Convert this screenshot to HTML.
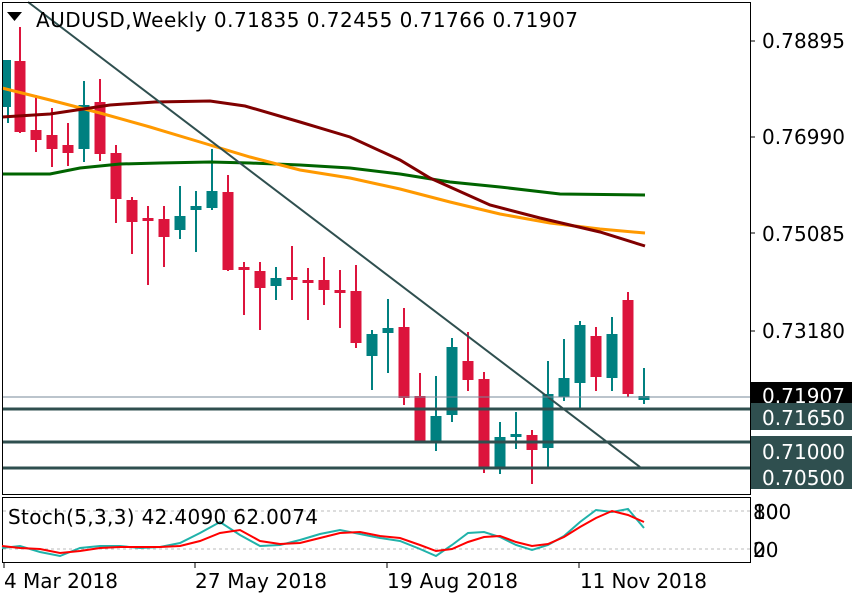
<!DOCTYPE html><html><head><style>body{margin:0;background:#fff}svg{display:block}text{font-family:"DejaVu Sans","Liberation Sans",sans-serif}</style></head><body>
<svg width="860" height="600" viewBox="0 0 860 600" xmlns="http://www.w3.org/2000/svg">
<rect width="860" height="600" fill="#fff"/>
<g stroke-width="2">
<g stroke="#008080" fill="#008080">
<line x1="8" y1="60" x2="8" y2="123"/><rect x="3" y="60" width="8" height="47" stroke="none"/>
<line x1="84" y1="81" x2="84" y2="162"/><rect x="78.5" y="105" width="11" height="44" stroke="none"/>
<line x1="180" y1="186" x2="180" y2="239"/><rect x="174.5" y="216" width="11" height="14" stroke="none"/>
<line x1="196" y1="191" x2="196" y2="252"/><rect x="190.5" y="206" width="11" height="4" stroke="none"/>
<line x1="212" y1="149" x2="212" y2="210"/><rect x="206.5" y="191" width="11" height="17" stroke="none"/>
<line x1="276" y1="267" x2="276" y2="300"/><rect x="270.5" y="278" width="11" height="8" stroke="none"/>
<line x1="372" y1="330" x2="372" y2="390"/><rect x="366.5" y="334" width="11" height="22" stroke="none"/>
<line x1="388" y1="299" x2="388" y2="373"/><rect x="382.5" y="328" width="11" height="5" stroke="none"/>
<line x1="436" y1="376" x2="436" y2="451"/><rect x="430.5" y="416" width="11" height="26" stroke="none"/>
<line x1="452" y1="338" x2="452" y2="422"/><rect x="446.5" y="347" width="11" height="68" stroke="none"/>
<line x1="500" y1="422" x2="500" y2="474"/><rect x="494.5" y="437" width="11" height="31" stroke="none"/>
<line x1="516" y1="412" x2="516" y2="449"/><rect x="510.5" y="434" width="11" height="3" stroke="none"/>
<line x1="548" y1="361" x2="548" y2="469"/><rect x="542.5" y="394" width="11" height="54" stroke="none"/>
<line x1="564" y1="339" x2="564" y2="401"/><rect x="558.5" y="378" width="11" height="19" stroke="none"/>
<line x1="580" y1="321" x2="580" y2="409"/><rect x="574.5" y="325" width="11" height="58" stroke="none"/>
<line x1="612" y1="317" x2="612" y2="391"/><rect x="606.5" y="334" width="11" height="44" stroke="none"/>
<line x1="644" y1="368" x2="644" y2="404"/><rect x="638.5" y="396" width="11" height="4" stroke="none"/>
</g>
<g stroke="#dc143c" fill="#dc143c">
<line x1="20" y1="27" x2="20" y2="133"/><rect x="14.5" y="61" width="11" height="71" stroke="none"/>
<line x1="36" y1="95" x2="36" y2="152"/><rect x="30.5" y="130" width="11" height="10" stroke="none"/>
<line x1="52" y1="108" x2="52" y2="167"/><rect x="46.5" y="135" width="11" height="14" stroke="none"/>
<line x1="68" y1="123" x2="68" y2="166"/><rect x="62.5" y="145" width="11" height="8" stroke="none"/>
<line x1="100" y1="79" x2="100" y2="161"/><rect x="94.5" y="102" width="11" height="52" stroke="none"/>
<line x1="116" y1="145" x2="116" y2="223"/><rect x="110.5" y="153" width="11" height="46" stroke="none"/>
<line x1="132" y1="197" x2="132" y2="254"/><rect x="126.5" y="200" width="11" height="22" stroke="none"/>
<line x1="148" y1="206" x2="148" y2="285"/><rect x="142.5" y="218" width="11" height="3" stroke="none"/>
<line x1="164" y1="206" x2="164" y2="267"/><rect x="158.5" y="219" width="11" height="18" stroke="none"/>
<line x1="228" y1="175" x2="228" y2="271"/><rect x="222.5" y="192" width="11" height="78" stroke="none"/>
<line x1="244" y1="262" x2="244" y2="315"/><rect x="238.5" y="267" width="11" height="3" stroke="none"/>
<line x1="260" y1="262" x2="260" y2="330"/><rect x="254.5" y="271" width="11" height="17" stroke="none"/>
<line x1="292" y1="246" x2="292" y2="300"/><rect x="286.5" y="277" width="11" height="3" stroke="none"/>
<line x1="308" y1="268" x2="308" y2="320"/><rect x="302.5" y="280" width="11" height="3" stroke="none"/>
<line x1="324" y1="257" x2="324" y2="305"/><rect x="318.5" y="280" width="11" height="10" stroke="none"/>
<line x1="340" y1="270" x2="340" y2="328"/><rect x="334.5" y="290" width="11" height="3" stroke="none"/>
<line x1="356" y1="265" x2="356" y2="348"/><rect x="350.5" y="291" width="11" height="52" stroke="none"/>
<line x1="404" y1="308" x2="404" y2="405"/><rect x="398.5" y="327" width="11" height="71" stroke="none"/>
<line x1="420" y1="373" x2="420" y2="443"/><rect x="414.5" y="396" width="11" height="45" stroke="none"/>
<line x1="468" y1="332" x2="468" y2="391"/><rect x="462.5" y="361" width="11" height="19" stroke="none"/>
<line x1="484" y1="372" x2="484" y2="473"/><rect x="478.5" y="379" width="11" height="90" stroke="none"/>
<line x1="532" y1="430" x2="532" y2="484"/><rect x="526.5" y="435" width="11" height="15" stroke="none"/>
<line x1="596" y1="327" x2="596" y2="391"/><rect x="590.5" y="336" width="11" height="41" stroke="none"/>
<line x1="628" y1="292" x2="628" y2="397"/><rect x="622.5" y="300" width="11" height="94" stroke="none"/>
</g>
</g>
<polyline fill="none" stroke="#006400" stroke-width="3" points="2,174 50,174 80,168 120,164 160,163 210,162 250,163 300,165 350,168 400,174 450,182 500,187 560,194 645,195"/>
<polyline fill="none" stroke="#ff9900" stroke-width="3" points="2,88 50,100 100,113 150,127 200,142 250,157 300,170 350,178 400,189 450,202 500,214 550,223 600,229 645,233"/>
<polyline fill="none" stroke="#800000" stroke-width="3" points="2,117 50,114 110,105 155,102 210,101 245,106 300,122 350,137 400,160 430,178 490,205 540,218 600,232 645,246"/>
<line x1="28" y1="2" x2="640" y2="467" stroke="#2f4f4f" stroke-width="2"/>
<line x1="2" y1="397" x2="750" y2="397" stroke="#778899" stroke-width="1"/>
<g stroke="#2f4f4f" stroke-width="3"><line x1="2" y1="409" x2="750" y2="409"/><line x1="2" y1="442" x2="750" y2="442"/><line x1="2" y1="468" x2="750" y2="468"/></g>
<rect x="2.5" y="2.5" width="748" height="492" fill="none" stroke="#000"/>
<rect x="2.5" y="497.5" width="748" height="65" fill="none" stroke="#000"/>
<g stroke="#000"><line x1="750" y1="41" x2="755" y2="41"/><line x1="750" y1="137" x2="755" y2="137"/><line x1="750" y1="233" x2="755" y2="233"/><line x1="750" y1="331" x2="755" y2="331"/><line x1="387" y1="563" x2="387" y2="568"/><line x1="579" y1="563" x2="579" y2="568"/><line x1="195" y1="563" x2="195" y2="568"/><line x1="4" y1="563" x2="4" y2="568"/></g>
<g font-size="20" fill="#000"><text x="762" y="48" textLength="83">0.78895</text><text x="762" y="144" textLength="83">0.76990</text><text x="762" y="241" textLength="83">0.75085</text><text x="762" y="338" textLength="83">0.73180</text></g>
<rect x="751" y="382" width="101" height="22" fill="#000"/><text x="762" y="403" font-size="20" fill="#fff" textLength="83">0.71907</text>
<rect x="751" y="403" width="101" height="27" fill="#2f4f4f"/><text x="762" y="425" font-size="20" fill="#fff" textLength="83">0.71650</text>
<rect x="751" y="436" width="101" height="53" fill="#2f4f4f"/><text x="762" y="459" font-size="20" fill="#fff" textLength="83">0.71000</text><text x="762" y="485" font-size="20" fill="#fff" textLength="83">0.70500</text>
<path d="M7,12 L22,12 L14.5,21Z" fill="#000"/>
<text x="36" y="27" font-size="20" textLength="542">AUDUSD,Weekly  0.71835 0.72455 0.71766 0.71907</text>
<g stroke="#bbb" stroke-dasharray="3,3"><line x1="3" y1="511" x2="750" y2="511"/><line x1="3" y1="549" x2="750" y2="549"/></g>
<polyline fill="none" stroke="#20b2aa" stroke-width="2" points="2,548 20,546 40,552 60,556 80,548 100,546 120,546 140,548 160,547 180,543 200,533 220,522 240,535 260,546 280,545 300,540 320,534 340,530 360,534 380,538 400,541 420,549 436,556 452,545 468,533 484,532 500,537 516,545 532,550 548,545 564,536 580,522 596,510 612,512 628,509 644,528"/>
<polyline fill="none" stroke="#ff0000" stroke-width="2" points="2,546 20,548 40,549 60,553 80,551 100,548 120,547 140,547 160,547 180,546 200,541 220,533 240,530 260,541 280,544 300,543 320,538 340,533 360,532 380,536 400,538 420,545 436,551 452,549 468,542 484,537 500,536 516,542 532,546 548,544 564,537 580,527 596,518 612,511 628,515 644,522"/>
<text x="8" y="524" font-size="20" textLength="310">Stoch(5,3,3) 42.4090 62.0074</text>
<g font-size="20"><text x="753" y="519">100</text><text x="753" y="519">80</text><text x="753" y="557">20</text><text x="753" y="557">0</text></g>
<g font-size="20"><text x="4" y="588" textLength="114">4 Mar 2018</text><text x="195" y="588" textLength="132">27 May 2018</text><text x="387" y="588" textLength="131">19 Aug 2018</text><text x="580" y="588" textLength="127">11 Nov 2018</text></g>
</svg></body></html>
